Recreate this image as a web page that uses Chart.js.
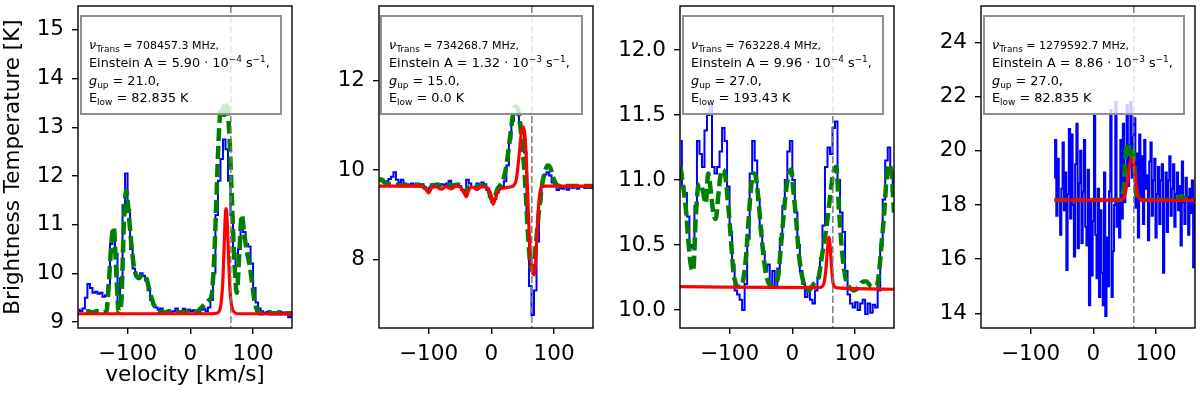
<!DOCTYPE html>
<html><head><meta charset="utf-8">
<script src="https://cdn.jsdelivr.net/npm/chart.js@4/dist/chart.umd.min.js"></script>
<style>
html,body{margin:0;padding:0;background:#fff;}
#wrap{position:relative;width:1200px;height:398px;overflow:hidden;background:#fff;}
canvas{position:absolute;top:0;}
.lg{position:absolute;top:15px;height:100px;box-sizing:border-box;border:2px solid #8f8f8f;background:rgba(255,255,255,0.8);font-family:"DejaVu Sans",sans-serif;font-size:12.8px;color:#000;padding:19px 0 0 7px;line-height:17.3px;white-space:nowrap;}
.lg sub{font-size:70%;vertical-align:-0.3em;line-height:0;}
.lg sup{font-size:70%;vertical-align:0.6em;line-height:0;}
.lg .sm{font-size:11px;}
</style></head><body>
<div id="wrap"></div>
<script>
// ---------- data ----------
const velGrid = [-178,-174,-170,-166,-162,-158,-154,-150,-146,-142,-138,-134,-130,-126,-122,-118,-114,-110,-106,-102,-98,-94,-90,-86,-82,-78,-74,-70,-66,-62,-58,-54,-50,-46,-42,-38,-34,-30,-26,-22,-18,-14,-10,-6,-2,2,6,10,14,18,22,26,30,34,38,42,46,50,54,58,62,66,70,74,78,82,86,90,94,98,102,106,110,114,118,122,126,130,134,138,142,146,150,154,158,162];

const p1Blue = [9.25,9.22,9.28,9.5,9.78,9.7,9.6,9.62,9.58,9.6,
 9.52,9.55,9.75,10.6,10.85,10.4,9.35,9.9,11.4,12.05,
 11.3,10.5,10.1,9.95,9.92,10.0,9.95,9.85,9.65,9.45,
 9.35,9.3,9.25,9.28,9.2,9.18,9.24,9.2,9.22,9.28,
 9.2,9.22,9.27,9.2,9.25,9.22,9.24,9.2,9.18,9.25,
 9.27,9.22,9.3,9.45,10.0,11.2,11.9,12.35,12.75,12.55,
 11.9,11.2,10.4,10.15,10.5,11.0,10.85,10.6,10.55,10.2,
 9.7,9.4,9.28,9.22,9.18,9.2,9.22,9.17,9.2,9.18,
 9.22,9.2,9.17,9.2,9.1,9.12];
const p1Green = [null,null,null,9.22,9.22,9.2,9.2,9.22,9.22,9.2,
 9.2,9.2,9.75,10.6,10.95,10.0,9.2,9.4,11.0,11.7,
 11.2,10.6,10.15,9.95,9.9,9.95,9.97,9.9,9.7,9.5,
 9.35,9.28,9.22,9.2,9.2,9.2,9.2,9.2,9.2,9.2,
 9.2,9.2,9.2,9.2,9.2,9.2,9.2,9.2,9.25,9.3,
 9.35,9.4,9.45,9.55,10.3,11.7,13.0,13.45,13.25,13.45,
 12.9,11.6,10.3,9.6,10.4,11.2,10.8,10.45,10.2,9.85,
 9.45,9.25,9.18,9.18,9.18,9.18,9.18,9.18,9.18,9.18,
 9.18,9.18,9.18,9.18,9.18,9.18];
const p1RedVel = [-179,30,42,46,48,50,52,54,56,57,59,61,63,65,67,70,76,100,162];
const p1Red = [9.17,9.17,9.18,9.22,9.3,9.5,9.9,10.6,11.25,11.33,11.0,10.3,9.7,9.4,9.27,9.2,9.17,9.17,9.16];

const p2Blue = [9.75,9.8,9.72,9.75,9.8,9.85,9.95,9.78,9.72,9.78,
 9.7,9.68,9.66,9.7,9.68,9.7,9.65,9.68,9.62,9.56,
 9.6,9.68,9.64,9.7,9.66,9.68,9.66,9.7,9.76,9.68,
 9.66,9.7,9.64,9.55,9.5,9.78,9.7,9.62,9.6,9.7,
 9.66,9.72,9.68,9.55,9.4,9.28,9.35,9.5,9.6,9.62,
 9.75,10.1,10.7,11.1,11.25,11.25,11.05,10.85,10.4,8.9,
 7.4,6.75,7.3,8.4,9.3,9.75,9.9,9.95,9.88,9.72,
 9.65,9.55,9.6,9.58,9.62,9.56,9.62,9.6,9.64,9.58,
 9.62,9.64,9.6,9.62,9.6,9.62];
const p2Green = [9.8,9.78,9.72,9.7,9.68,9.68,9.67,9.67,9.66,9.66,
 9.66,9.66,9.66,9.66,9.66,9.66,9.66,9.64,9.6,9.56,
 9.6,9.65,9.66,9.66,9.66,9.66,9.66,9.66,9.66,9.66,
 9.66,9.66,9.66,9.6,9.48,9.55,9.64,9.66,9.64,9.6,
 9.64,9.66,9.64,9.58,9.45,9.3,9.42,9.58,9.66,9.75,
 9.95,10.3,10.75,11.2,11.42,11.38,11.0,10.45,9.7,8.65,
 7.9,7.75,8.2,8.8,9.35,9.75,10.0,10.1,10.05,9.85,
 9.72,9.65,9.64,9.64,9.64,9.64,9.64,9.64,9.64,9.64,
 9.64,9.64,9.64,9.64,9.64,9.64];
const p2RedVel = [-179,-112,-106,-100,-95,-88,-80,-72,-64,-56,-48,-43,-40,-36,-30,-23,-16,-6,-1,3,7,12,20,30,36,40,44,48,51,54,57,60,63,66,68.5,71,74,77,80,86,162];
const p2Red = [9.64,9.64,9.6,9.49,9.6,9.63,9.57,9.63,9.58,9.64,9.6,9.48,9.4,9.55,9.62,9.56,9.63,9.6,9.45,9.23,9.4,9.55,9.6,9.62,9.66,9.8,10.3,10.85,10.97,10.7,9.8,8.7,7.95,7.68,7.65,8.1,8.9,9.45,9.62,9.64,9.64];

const p3Blue = [11.3,10.95,10.9,10.72,10.5,10.48,10.8,11.3,11.2,11.1,
 11.38,11.5,11.58,11.1,11.05,11.1,11.22,11.4,11.3,10.95,
 10.6,10.35,10.15,10.12,10.08,10.0,10.2,10.55,11.05,11.3,
 11.15,10.85,10.62,10.45,10.3,10.35,10.2,10.3,10.18,10.32,
 10.55,10.8,11.0,11.22,11.3,11.0,10.75,10.5,10.3,10.2,
 10.1,10.18,10.08,10.05,10.15,10.25,10.4,10.65,11.1,11.25,
 11.2,11.4,11.45,11.0,10.75,10.6,10.3,10.12,10.05,10.02,
 10.06,10.0,10.05,10.08,9.97,10.05,9.98,10.04,10.02,10.15,
 10.5,10.85,11.15,11.25,11.05,10.9];
const p3Green = [11.1,10.95,10.8,10.55,10.35,10.3,10.7,10.95,10.97,10.9,
 10.82,11.05,10.92,10.75,10.7,10.88,11.05,11.08,11.0,10.8,
 10.55,10.3,10.2,10.18,10.18,10.24,10.4,10.67,10.93,11.05,
 11.02,10.85,10.62,10.42,10.28,10.21,10.19,10.18,10.2,10.28,
 10.5,10.72,10.92,11.04,11.08,10.9,10.7,10.45,10.3,10.21,
 10.17,10.15,10.17,10.2,10.22,10.25,10.38,10.5,10.62,10.78,
 10.95,11.07,11.1,10.8,10.52,10.33,10.22,10.18,10.16,10.15,
 10.16,10.18,10.21,10.22,10.22,10.2,10.18,10.18,10.18,10.28,
 10.5,10.72,11.0,11.12,11.05,10.75];
const p3RedVel = [-179,40,46,50,52,54,56,58.3,60.5,62.5,64.5,67,72,162];
const p3Red = [10.18,10.172,10.175,10.2,10.25,10.34,10.47,10.56,10.48,10.33,10.22,10.18,10.17,10.16];

const velGrid4 = [-62,-60,-58,-56,-54,-52,-50,-48,-46,-44,-42,-40,-38,-36,-34,-32,-30,-28,-26,-24,-22,-20,-18,-16,-14,-12,-10,-8,-6,-4,-2,0,2,4,6,8,10,12,14,16,18,20,22,24,26,28,30,32,34,36,38,40,42,44,46,48,50,52,54,56,58,60,62,64,66,68,70,72,74,76,78,80,82,84,86,88,90,92,94,96,98,100,102,104,106,108,110,112,114,116,118,120,122,124,126,128,130,132,134,136,138,140,142,144,146,148,150,152,154,156,158,160,162];
const p4Blue = [19.0,20.4,17.6,19.7,18.2,16.9,18.6,20.3,17.8,19.2,
 15.6,18.4,20.8,17.5,20.6,18.0,16.1,19.5,21.0,16.4,
 18.8,20.0,16.6,18.5,20.4,17.2,16.5,19.3,14.3,18.2,
 15.4,17.4,21.3,16.9,15.3,18.6,14.6,17.8,15.5,14.3,
 19.2,13.9,16.8,15.0,18.5,21.5,14.6,16.3,18.0,21.8,
 17.2,18.2,16.8,20.4,17.5,21.0,18.1,19.4,21.7,18.7,
 20.2,21.8,19.0,20.5,21.2,17.9,19.9,16.8,20.6,18.2,
 19.8,17.3,20.4,18.6,19.1,16.7,19.6,20.3,17.6,18.9,
 19.7,16.8,18.4,19.4,17.3,18.9,19.5,15.5,18.2,19.2,
 17.0,18.9,19.8,17.6,18.6,19.5,17.2,18.4,19.2,17.8,
 18.7,16.5,19.6,18.1,17.3,19.0,18.3,16.9,18.6,17.7,
 18.9,15.7,18.0];
const p4GreenVel = [-62,40,46,49,51,53,55,57,59,61,63,65,67,69,72,80,130,136,140,145,150,162];
const p4Green = [18.18,18.18,18.25,18.8,19.7,20.2,20.28,19.95,19.85,20.05,20.1,19.6,18.9,18.4,18.2,18.18,18.2,18.28,18.33,18.26,18.2,18.18];
const p4RedVel = [-62,44,48,51,54,57,60,62,64,66,69,72,76,82,162];
const p4Red = [18.18,18.18,18.24,18.45,18.85,19.35,19.68,19.72,19.6,19.25,18.65,18.3,18.2,18.18,18.17];

const vlineVel = [64.5, 64.5, 64.5, 64.5];
const xTicks = [-100, 0, 100];
const yTicks1 = [9, 10, 11, 12, 13, 14, 15];
const yTicks2 = [8, 10, 12];
const yTicks3 = [10.0, 10.5, 11.0, 11.5, 12.0];
const yTicks4 = [14, 16, 18, 20, 22, 24];

const freqs = ['708457.3', '734268.7', '763228.4', '1279592.7'];
const einA = ['5.90', '1.32', '9.96', '8.86'];
const einExp = ['\u22124', '\u22123', '\u22124', '\u22123'];
const gUp = ['21.0', '15.0', '27.0', '27.0'];
const eLow = ['82.835', '0.0', '193.43', '82.835'];

// ---------- layout ----------
const X_MIN = -179, X_MAX = 162;
const FS = 21.5;
const panels = [
  {gb: velGrid, blue: p1Blue, gg: velGrid, green: p1Green, rv: p1RedVel, red: p1Red, yMin: 8.877, yMax: 15.49, yTicks: yTicks1, dec: 0, xTitle: true, yTitle: true},
  {gb: velGrid, blue: p2Blue, gg: velGrid, green: p2Green, rv: p2RedVel, red: p2Red, yMin: 6.457, yMax: 13.68, yTicks: yTicks2, dec: 0, xTitle: false, yTitle: false},
  {gb: velGrid, blue: p3Blue, gg: velGrid, green: p3Green, rv: p3RedVel, red: p3Red, yMin: 9.862, yMax: 12.338, yTicks: yTicks3, dec: 1, xTitle: false, yTitle: false},
  {gb: velGrid4, blue: p4Blue, gg: p4GreenVel, green: p4Green, rv: p4RedVel, red: p4Red, yMin: 13.46, yMax: 25.34, yTicks: yTicks4, dec: 0, xTitle: false, yTitle: false}
];
const lgLeft = [80, 380, 682, 983];
const lgWidth = [202, 203, 202, 202];

Chart.defaults.font.family = "'DejaVu Sans', sans-serif";
Chart.defaults.color = '#000';

function fmt(v, dec) {
  const s = Math.abs(v).toFixed(dec);
  return v < 0 ? '\u2212' + s : s;
}
function pts(xs, ys) { return xs.map((x, i) => ({x: x, y: ys[i]})); }

const wrap = document.getElementById('wrap');

panels.forEach((p, k) => {
  const cv = document.createElement('canvas');
  cv.width = 297; cv.height = 398;
  cv.style.left = (301 * k) + 'px';
  wrap.appendChild(cv);

  const framePlugin = {
    id: 'frame' + k,
    afterDatasetsDraw(chart) {
      const ctx = chart.ctx, a = chart.chartArea;
      const xp = chart.scales.x.getPixelForValue(vlineVel[k]);
      ctx.save();
      ctx.beginPath();
      ctx.rect(a.left, a.top, a.right - a.left, a.bottom - a.top);
      ctx.clip();
      ctx.setLineDash([7, 3]);
      ctx.strokeStyle = 'rgba(120,120,120,0.9)';
      ctx.lineWidth = 1.6;
      ctx.beginPath();
      ctx.moveTo(xp, a.top);
      ctx.lineTo(xp, a.bottom);
      ctx.stroke();
      ctx.restore();
      ctx.save();
      ctx.strokeStyle = '#000';
      ctx.lineWidth = 1.4;
      ctx.strokeRect(a.left, a.top, a.right - a.left, a.bottom - a.top);
      ctx.restore();
    }
  };

  const gridOpt = {display: true, drawOnChartArea: false, drawTicks: true, tickLength: 6, tickWidth: 1.4, tickColor: '#000', color: '#000', lineWidth: 1.4};

  new Chart(cv, {
    type: 'line',
    data: {
      datasets: [
        {data: pts(p.rv, p.red), borderColor: '#ff0000', borderWidth: 3.2, pointRadius: 0, cubicInterpolationMode: 'monotone', order: 1},
        {data: pts(p.gg, p.green), borderColor: '#008000', borderWidth: 4.5, borderDash: [13, 5], pointRadius: 0, cubicInterpolationMode: 'monotone', order: 2},
        {data: pts(p.gb, p.blue), borderColor: '#0000ff', borderWidth: 2, pointRadius: 0, stepped: 'middle', order: 3}
      ]
    },
    options: {
      responsive: false,
      animation: false,
      devicePixelRatio: 1,
      layout: {padding: {left: 0, right: 5, top: 6, bottom: 0}},
      plugins: {legend: {display: false}, tooltip: {enabled: false}},
      scales: {
        x: {
          type: 'linear', min: X_MIN, max: X_MAX,
          afterBuildTicks: s => { s.ticks = xTicks.map(v => ({value: v})); },
          ticks: {font: {size: FS}, color: '#000', padding: 8, maxRotation: 0, autoSkip: false, callback: v => fmt(v, 0)},
          grid: gridOpt,
          border: {display: false},
          title: {display: p.xTitle, text: 'velocity [km/s]', font: {size: FS}, color: '#000', padding: {top: 0, bottom: 10}},
          afterFit: s => { s.height = 70; s.paddingLeft = 0; s.paddingRight = 0; }
        },
        y: {
          type: 'linear', min: p.yMin, max: p.yMax,
          afterBuildTicks: s => { s.ticks = p.yTicks.map(v => ({value: v})); },
          ticks: {font: {size: FS}, color: '#000', padding: 8, autoSkip: false, callback: v => fmt(v, p.dec)},
          grid: gridOpt,
          border: {display: false},
          title: {display: p.yTitle, text: 'Brightness Temperature [K]', font: {size: FS}, color: '#000', padding: {top: 1, bottom: 0}},
          afterFit: s => { s.width = 78; s.paddingTop = 0; s.paddingBottom = 0; }
        }
      }
    },
    plugins: [framePlugin]
  });

  const lg = document.createElement('div');
  lg.className = 'lg';
  lg.style.left = lgLeft[k] + 'px';
  lg.style.width = lgWidth[k] + 'px';
  lg.innerHTML =
    '<div><i>\u03bd</i><sub>Trans</sub><span class="sm"> = ' + freqs[k] + ' MHz,</span></div>' +
    '<div>Einstein A = ' + einA[k] + ' \u00b7 10<sup>' + einExp[k] + '</sup> s<sup>\u22121</sup>,</div>' +
    '<div><i>g</i><sub>up</sub> = ' + gUp[k] + ',</div>' +
    '<div>E<sub>low</sub> = ' + eLow[k] + ' K</div>';
  wrap.appendChild(lg);
});
</script>
</body></html>
